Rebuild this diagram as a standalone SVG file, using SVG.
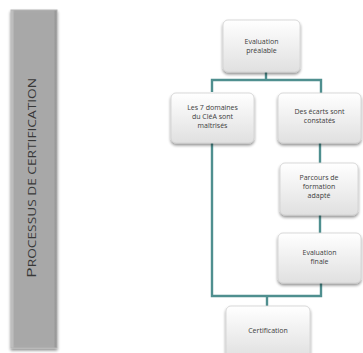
<svg xmlns="http://www.w3.org/2000/svg" width="363" height="353" viewBox="0 0 363 353">
<defs>
<linearGradient id="boxg" x1="0" y1="0" x2="0" y2="1">
<stop offset="0" stop-color="#ffffff"/>
<stop offset="1" stop-color="#e0e0e0"/>
</linearGradient>
<linearGradient id="barg" x1="0" y1="0" x2="1" y2="0">
<stop offset="0" stop-color="#cbcbcb"/>
<stop offset="0.08" stop-color="#a9a9a9"/>
<stop offset="0.92" stop-color="#a9a9a9"/>
<stop offset="1" stop-color="#8f8f8f"/>
</linearGradient>
<filter id="sh" x="-20%" y="-20%" width="140%" height="150%">
<feGaussianBlur in="SourceAlpha" stdDeviation="1.6"/>
<feOffset dx="0" dy="1.5" result="b"/>
<feComponentTransfer><feFuncA type="linear" slope="0.45"/></feComponentTransfer>
<feMerge><feMergeNode/><feMergeNode in="SourceGraphic"/></feMerge>
</filter>
</defs>
<style>
.box{fill:url(#boxg);stroke:#d0d0d0;stroke-width:0.8;filter:url(#sh)}
.t{font-family:"Open Sans","Liberation Sans",sans-serif;font-size:7px;fill:#3c3c3c;text-anchor:middle}
.c{fill:none;stroke:#4f8f8f;stroke-width:2.4;stroke-linejoin:miter}
</style>
<rect width="363" height="353" fill="#ffffff"/>
<g id="bar">
<rect x="11" y="10" width="46" height="338" fill="url(#barg)" stroke="#b5b5b5" stroke-width="1" filter="url(#sh)"/>
<rect x="14" y="13" width="40" height="332" fill="#a8a8a8"/>
<text transform="translate(36,178) rotate(-90)" font-family="'Open Sans','Liberation Sans',sans-serif" fill="#383838" text-anchor="middle" textLength="200" lengthAdjust="spacingAndGlyphs"><tspan font-size="13">P</tspan><tspan font-size="10">ROCESSUS DE CERTIFICATION</tspan></text>
</g>
<g id="connectors">
<path class="c" d="M266,72 V80 M212,92 V80 H321 V93"/>
<path class="c" d="M212,143 V296 H321 V283"/>
<path class="c" d="M267,296 V306"/>
<path class="c" d="M320,143 V163"/>
<path class="c" d="M320,215 V233"/>
</g>
<g id="n1">
<rect class="box" x="223" y="20" width="77" height="52" rx="5"/>
<text class="t" x="261.5" y="44">Evaluation</text>
<text class="t" x="261.5" y="53">préalable</text>
</g>
<g id="n2">
<rect class="box" x="171" y="93" width="83" height="50" rx="5"/>
<text class="t" x="212.5" y="110">Les 7 domaines</text>
<text class="t" x="212.5" y="119">du CléA sont</text>
<text class="t" x="212.5" y="128">maîtrisés</text>
</g>
<g id="n3">
<rect class="box" x="278" y="93" width="83" height="50" rx="5"/>
<text class="t" x="319.5" y="114">Des écarts sont</text>
<text class="t" x="319.5" y="123">constatés</text>
</g>
<g id="n4">
<rect class="box" x="280" y="163" width="78" height="52" rx="5"/>
<text class="t" x="319" y="180">Parcours de</text>
<text class="t" x="319" y="189">formation</text>
<text class="t" x="319" y="198">adapté</text>
</g>
<g id="n5">
<rect class="box" x="278" y="233" width="83" height="50" rx="5"/>
<text class="t" x="319.5" y="255">Evaluation</text>
<text class="t" x="319.5" y="264">finale</text>
</g>
<g id="n6">
<rect class="box" x="226" y="306" width="84" height="52" rx="5"/>
<text class="t" x="268" y="333">Certification</text>
</g>
</svg>
